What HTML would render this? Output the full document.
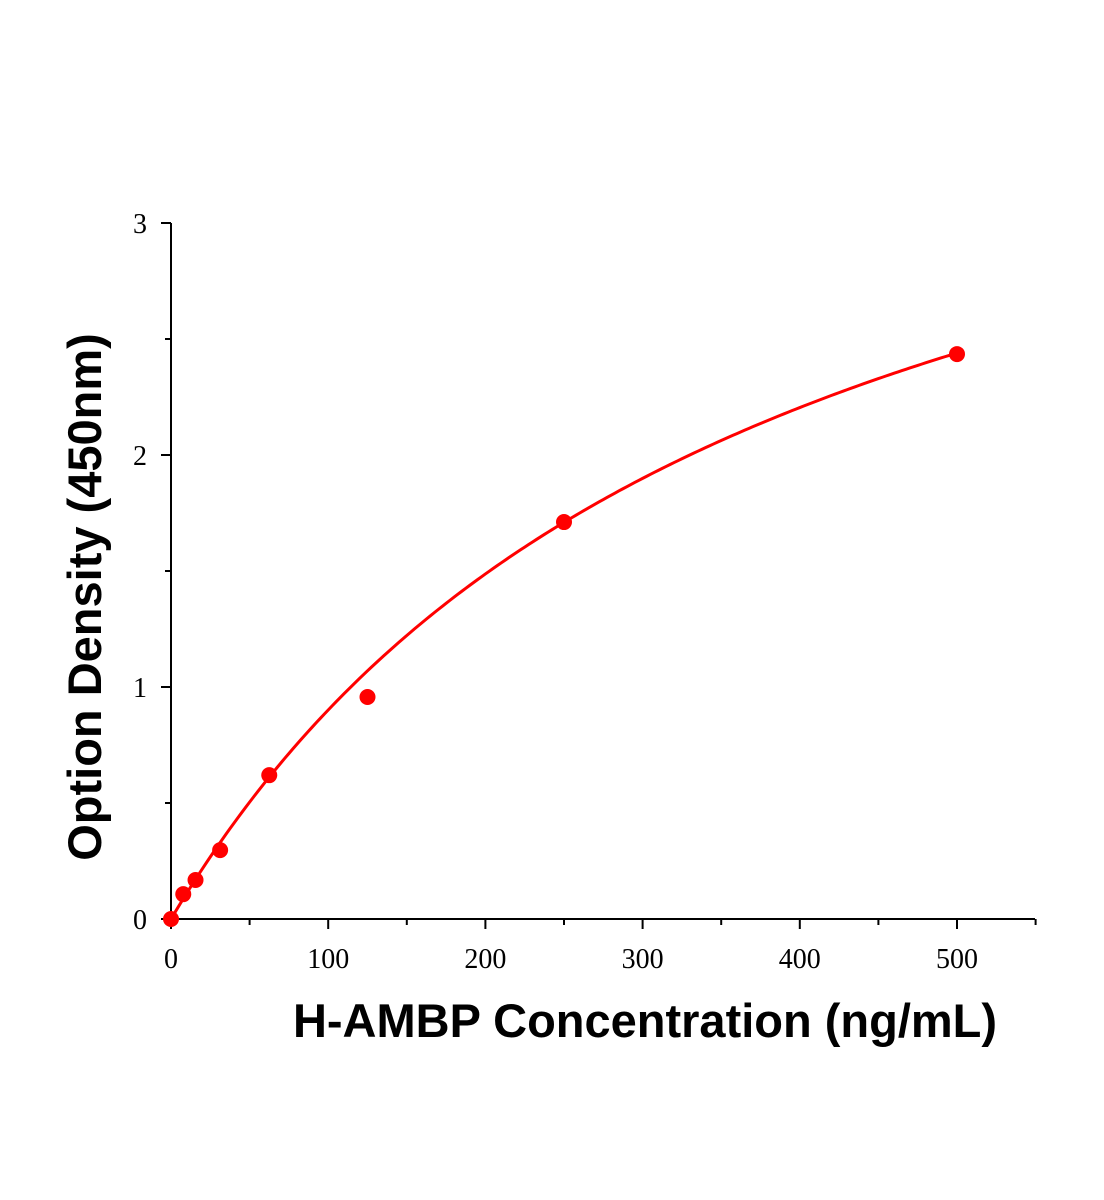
<!DOCTYPE html>
<html><head><meta charset="utf-8"><style>
html,body{margin:0;padding:0;background:#fff;}
svg{display:block;}
</style></head><body>
<svg id="chart" width="1104" height="1200" viewBox="0 0 1104 1200" xmlns="http://www.w3.org/2000/svg">
<g id="axes"></g>
<path id="fit" fill="none" stroke="#ff0000" stroke-width="3"></path>
<g id="pts"></g>
<text x="645" y="1037" text-anchor="middle" font-family="Liberation Sans, sans-serif" font-weight="bold" font-size="47">H-AMBP Concentration (ng/mL)</text>
<text transform="translate(101,597) rotate(-90)" text-anchor="middle" font-family="Liberation Sans, sans-serif" font-weight="bold" font-size="47">Option Density (450nm)</text>
</svg>
<script>
const concentrations=[0,7.8,15.6,31.25,62.5,125,250,500];
const densities=[0,0.107,0.168,0.297,0.62,0.957,1.711,2.435];
const xTicks=[0,100,200,300,400,500];
const xMinor=[50,150,250,350,450,550];
const yTicks=[0,1,2,3];
const yMinor=[0.5,1.5,2.5];
const fitA=4.258, fitB=372.6;
const NS="http://www.w3.org/2000/svg";
const X=v=>171+v*(957-171)/500;
const Y=v=>919-v*(919-223)/3;
function mk(t,a,p){const e=document.createElementNS(NS,t);for(const k in a)e.setAttribute(k,a[k]);p.appendChild(e);return e;}
const ax=document.getElementById('axes');
const xl=mk('line',{x1:171,y1:919,x2:1035,y2:919,stroke:'#000','stroke-width':2},ax);


const yl=mk('line',{x1:171,y1:919,x2:171,y2:223,stroke:'#000','stroke-width':2},ax);


xTicks.forEach(v=>{
 const t=mk('line',{x1:X(v),y1:919,x2:X(v),y2:929,stroke:'#000','stroke-width':2},ax);
 
 
 const l=mk('text',{x:X(v),y:968,'text-anchor':'middle','font-family':'Liberation Serif, serif','font-size':28},ax);
 l.textContent=v;
 
 
});
xMinor.forEach(v=>{
 const t=mk('line',{x1:X(v),y1:919,x2:X(v),y2:925,stroke:'#000','stroke-width':2},ax);
 
 
});
yTicks.forEach(v=>{
 const t=mk('line',{x1:161,y1:Y(v),x2:171,y2:Y(v),stroke:'#000','stroke-width':2},ax);
 
 
 const l=mk('text',{x:147,y:Y(v)+10,'text-anchor':'end','font-family':'Liberation Serif, serif','font-size':28},ax);
 l.textContent=v;
 
 
});
yMinor.forEach(v=>{
 const t=mk('line',{x1:165,y1:Y(v),x2:171,y2:Y(v),stroke:'#000','stroke-width':2},ax);
 
 
});
let d='';
for(let i=0;i<=200;i++){const x=500*i/200;const y=fitA*x/(fitB+x);d+=(i?'L':'M')+X(x).toFixed(2)+','+Y(y).toFixed(2);}
document.getElementById('fit').setAttribute('d',d);
const pg=document.getElementById('pts');
concentrations.forEach((c,i)=>{
 const p=mk('circle',{cx:X(c),cy:Y(densities[i]),r:8,fill:'#ff0000'},pg);
 
 
});
</script>
</body></html>
